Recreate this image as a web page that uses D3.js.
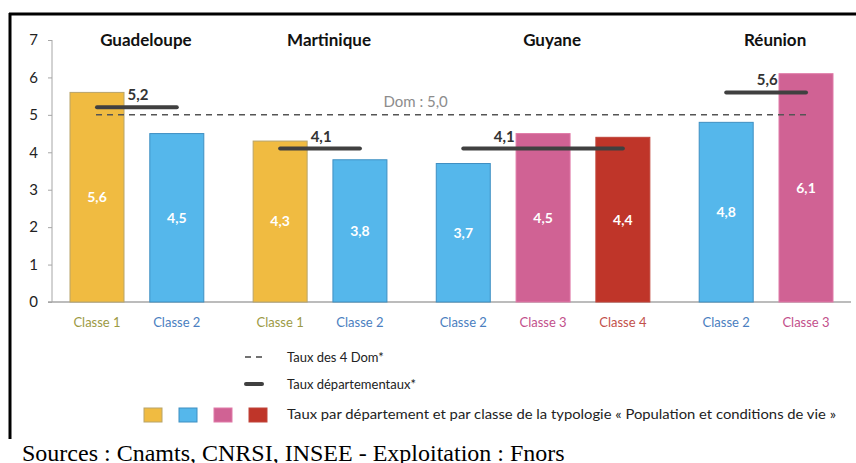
<!DOCTYPE html>
<html>
<head>
<meta charset="utf-8">
<script src="https://cdn.jsdelivr.net/npm/d3@7.9.0/dist/d3.min.js"></script>
<style>
  body { margin: 0; background: #fff; }
  svg { display: block; }
</style>
</head>
<body>
<div id="chart"></div>
<script>
// departments (groups) and the bars inside each one
const departments = ['Guadeloupe', 'Martinique', 'Guyane', 'Réunion'];
const barDept = [0, 0, 1, 1, 2, 2, 2, 3, 3];
const barClass = [1, 2, 1, 2, 2, 3, 4, 2, 3];
const barValues = [5.6, 4.5, 4.3, 3.8, 3.7, 4.5, 4.4, 4.8, 6.1];
const deptRates = [5.2, 4.1, 4.1, 5.6];
const domRate = 5.0;
const yTicks = [0, 1, 2, 3, 4, 5, 6, 7];

const classFill = { 1: '#f0bb41', 2: '#55b7eb', 3: '#d06294', 4: '#bf3529' };
const classStroke = { 1: '#b8a46a', 2: '#3f8fc2', 3: '#e07aa8', 4: '#c0453a' };
const classText = { 1: '#9c9a44', 2: '#4a7ec0', 3: '#c2508b', 4: '#c2504a' };

const fmt = (v) => d3.format('.1f')(v).replace('.', ',');

const width = 856;
const height = 463;

const svg = d3
  .select('#chart')
  .append('svg')
  .attr('width', width)
  .attr('height', height);

// frame (only the top and left edges are visible)
svg.append('line')
  .attr('x1', 9).attr('x2', width).attr('y1', 14).attr('y2', 14)
  .attr('stroke', '#000').attr('stroke-width', 3);
svg.append('line')
  .attr('x1', 10).attr('x2', 10).attr('y1', 13).attr('y2', 439)
  .attr('stroke', '#000').attr('stroke-width', 3);

// extra gap between departments, in bar slots
const groupGap = 0.295;
const slot = (i) => i + barDept[i] * groupGap;

const xScale = d3
  .scaleLinear()
  .domain([0, slot(barValues.length - 1)])
  .range([97, 806]);
const barWidth = 54;

const yScale = d3.scaleLinear().domain([0, 7]).range([302, 40]);

// y axis
const yAxis = d3.axisLeft(yScale)
  .tickValues(yTicks)
  .tickFormat(d3.format('d'))
  .tickSize(4)
  .tickPadding(10);
const yG = svg.append('g')
  .attr('transform', 'translate(52,0)')
  .call(yAxis);
yG.select('.domain').attr('stroke', '#a6a6a6').attr('d', `M0,${yScale(7)}V${yScale(0)}`);
yG.selectAll('.tick line').attr('stroke', '#a6a6a6');
yG.selectAll('.tick text')
  .attr('fill', '#222')
  .style('font-family', 'Lato, sans-serif')
  .style('font-size', '15px');

// baseline
svg.append('line')
  .attr('x1', 48).attr('x2', 851)
  .attr('y1', yScale(0)).attr('y2', yScale(0))
  .attr('stroke', '#a6a6a6').attr('stroke-width', 1.5);

const bars = barValues.map((v, i) => ({ v, i, cls: barClass[i], dept: barDept[i] }));

// bars
svg.append('g')
  .selectAll('rect')
  .data(bars)
  .join('rect')
  .attr('x', (d) => xScale(slot(d.i)) - barWidth / 2)
  .attr('y', (d) => yScale(d.v))
  .attr('width', barWidth)
  .attr('height', (d) => yScale(0) - yScale(d.v))
  .attr('fill', (d) => classFill[d.cls])
  .attr('stroke', (d) => classStroke[d.cls])
  .attr('stroke-width', 1);

// values inside bars
svg.append('g')
  .selectAll('text')
  .data(bars)
  .join('text')
  .attr('x', (d) => xScale(slot(d.i)))
  .attr('y', (d) => (yScale(d.v) + yScale(0)) / 2)
  .attr('dy', '0.35em')
  .attr('text-anchor', 'middle')
  .attr('fill', '#fff')
  .style('font-family', 'Lato, sans-serif')
  .style('font-weight', 'bold')
  .style('font-size', '14px')
  .text((d) => fmt(d.v));

// class labels under bars
svg.append('g')
  .selectAll('text')
  .data(bars)
  .join('text')
  .attr('x', (d) => xScale(slot(d.i)))
  .attr('y', 327)
  .attr('text-anchor', 'middle')
  .attr('fill', (d) => classText[d.cls])
  .style('font-family', 'Lato, sans-serif')
  .style('font-size', '13px')
  .text((d) => 'Classe ' + d.cls);

// department titles
const deptSpan = departments.map((name, g) => {
  const idx = bars.filter((d) => d.dept === g).map((d) => d.i);
  return { name, g, first: d3.min(idx), last: d3.max(idx), rate: deptRates[g] };
});

svg.append('g')
  .selectAll('text')
  .data(deptSpan)
  .join('text')
  .attr('x', (d) => (xScale(slot(d.first)) + xScale(slot(d.last))) / 2 + 9)
  .attr('y', 46)
  .attr('text-anchor', 'middle')
  .attr('fill', '#111')
  .style('font-family', 'Lato, sans-serif')
  .style('font-weight', 'bold')
  .style('font-size', '17px')
  .text((d) => d.name);

// Dom dashed line
svg.append('line')
  .attr('x1', xScale(slot(0)) - 1)
  .attr('x2', xScale(slot(barValues.length - 1)) + 1)
  .attr('y1', yScale(domRate)).attr('y2', yScale(domRate))
  .attr('stroke', '#555').attr('stroke-width', 1.5)
  .attr('stroke-dasharray', '6,5');

svg.append('text')
  .attr('x', (xScale(slot(3)) + xScale(slot(4))) / 2 + 4)
  .attr('y', yScale(domRate) - 8)
  .attr('text-anchor', 'middle')
  .attr('fill', '#8c8c8c')
  .style('font-family', 'Lato, sans-serif')
  .style('font-size', '15px')
  .text('Dom : ' + fmt(domRate));

// department rate lines
svg.append('g')
  .selectAll('line')
  .data(deptSpan)
  .join('line')
  .attr('x1', (d) => xScale(slot(d.first)))
  .attr('x2', (d) => xScale(slot(d.last)))
  .attr('y1', (d) => yScale(d.rate))
  .attr('y2', (d) => yScale(d.rate))
  .attr('stroke', '#404040')
  .attr('stroke-width', 4)
  .attr('stroke-linecap', 'round');

svg.append('g')
  .selectAll('text')
  .data(deptSpan)
  .join('text')
  .attr('x', (d) => xScale(slot(d.first)) + 41)
  .attr('y', (d) => yScale(d.rate) - 7)
  .attr('text-anchor', 'middle')
  .attr('fill', '#333')
  .style('font-family', 'Lato, sans-serif')
  .style('font-weight', 'bold')
  .style('font-size', '15px')
  .text((d) => fmt(d.rate));

// legend
const legend = svg.append('g')
  .style('font-family', 'Lato, sans-serif')
  .style('font-size', '13px')
  .attr('fill', '#222');

legend.append('line')
  .attr('x1', 245).attr('x2', 263).attr('y1', 357).attr('y2', 357)
  .attr('stroke', '#444').attr('stroke-width', 1.5)
  .attr('stroke-dasharray', '6,5');
legend.append('text').attr('x', 287).attr('y', 362).text('Taux des 4 Dom*');

legend.append('line')
  .attr('x1', 246).attr('x2', 262).attr('y1', 384).attr('y2', 384)
  .attr('stroke', '#404040').attr('stroke-width', 4)
  .attr('stroke-linecap', 'round');
legend.append('text').attr('x', 287).attr('y', 389).text('Taux départementaux*');

const legendClasses = [1, 2, 3, 4];
legend.append('g')
  .selectAll('rect')
  .data(legendClasses)
  .join('rect')
  .attr('x', (d, i) => 144 + i * 35)
  .attr('y', 408)
  .attr('width', 18)
  .attr('height', 14)
  .attr('fill', (d) => classFill[d])
  .attr('stroke', (d) => classStroke[d]);
legend.append('text').attr('x', 287).attr('y', 419)
  .style('font-size', '14px')
  .attr('textLength', 549)
  .attr('lengthAdjust', 'spacingAndGlyphs')
  .text('Taux par département et par classe de la typologie « Population et conditions de vie »');

// source
svg.append('text')
  .attr('x', 22)
  .attr('y', 461)
  .attr('fill', '#000')
  .style('font-family', '"Liberation Serif", "Times New Roman", serif')
  .style('font-size', '24px')
  .text('Sources : Cnamts, CNRSI, INSEE - Exploitation : Fnors');
</script>
</body>
</html>
